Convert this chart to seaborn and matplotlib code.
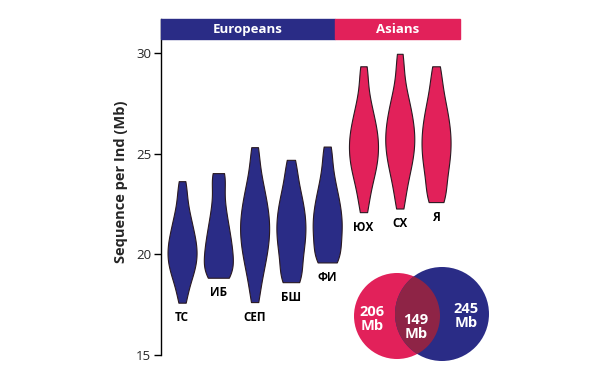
import matplotlib
matplotlib.use("Agg")
import matplotlib.pyplot as plt
from matplotlib.patches import Rectangle, Circle
import seaborn as sns
import pandas as pd

# ---- data (per-population samples, Mb) ----
populations = ["TC", "ИБ", "СЕП", "БШ", "ФИ", "ЮХ", "СХ", "Я"]
groups = ["Europeans"] * 5 + ["Asians"] * 3
tc = [17.6, 18.04, 18.49, 18.73, 18.97, 19.15, 19.33, 19.5, 19.65, 19.8, 19.94, 20.09, 20.24,
      20.39, 20.55, 20.71, 20.87, 21.03, 21.26, 21.48, 21.7, 21.93, 22.28, 22.68, 23.2, 23.64]
ib = [18.84, 18.88, 18.94, 19.13, 19.3, 19.48, 19.65, 19.82, 19.99, 20.18, 20.37, 20.56, 20.75,
      20.94, 21.18, 21.44, 21.7, 21.96, 22.33, 22.72, 23.17, 23.75, 24.0, 24.04]
sep = [17.63, 18.21, 18.77, 19.14, 19.43, 19.72, 20.0, 20.21, 20.43, 20.64, 20.85, 21.06, 21.25,
       21.44, 21.63, 21.83, 22.03, 22.27, 22.5, 22.73, 22.97, 23.3, 23.66, 24.02, 24.75, 25.33]
bsh = [18.62, 18.66, 18.82, 19.16, 19.45, 19.73, 20.02, 20.23, 20.44, 20.66, 20.87, 21.07, 21.26,
       21.46, 21.65, 21.85, 22.05, 22.28, 22.52, 22.75, 22.99, 23.35, 23.72, 24.24, 24.7]
fi = [19.6, 19.64, 19.76, 20.05, 20.27, 20.49, 20.72, 20.94, 21.14, 21.33, 21.52, 21.71, 21.9,
      22.11, 22.34, 22.57, 22.79, 23.03, 23.38, 23.73, 24.15, 24.81, 25.36]
yukh = [22.1, 22.7, 23.21, 23.56, 23.9, 24.15, 24.35, 24.56, 24.77, 24.97, 25.18, 25.37, 25.55,
        25.74, 25.93, 26.14, 26.38, 26.61, 26.85, 27.15, 27.55, 27.95, 28.75, 29.35]
skh = [22.28, 22.85, 23.33, 23.72, 24.06, 24.29, 24.52, 24.75, 24.98, 25.17, 25.35, 25.54, 25.72,
       25.9, 26.09, 26.29, 26.49, 26.7, 26.9, 27.14, 27.43, 27.71, 28.0, 28.54, 29.25, 29.97]
ya = [22.6, 22.65, 22.86, 23.23, 23.54, 23.85, 24.11, 24.33, 24.54, 24.76, 24.97, 25.17, 25.36,
      25.55, 25.74, 25.93, 26.13, 26.35, 26.56, 26.78, 26.99, 27.28, 27.58, 27.87, 28.31, 28.86,
      29.35]
samples = [tc, ib, sep, bsh, fi, yukh, skh, ya]
venn_labels = ["206\nMb", "149\nMb", "245\nMb"]
yticks = [15, 20, 25, 30]
ylabel = "Sequence per Ind (Mb)"

BLUE = "#2a2c86"
RED = "#e2215a"
OVER = "#8e2446"
EDGE = "#2a1a22"

rows = []
for pop, grp, vals in zip(populations, groups, samples):
    for v in vals:
        rows.append({"pop": pop, "group": grp, "val": v})
df = pd.DataFrame(rows)

sns.set_style("white")
plt.rcParams["font.family"] = ["Open Sans", "DejaVu Sans"]

fig = plt.figure(figsize=(6, 3.89), dpi=100)
ax = fig.add_axes([161 / 600, 1 - 355 / 389, (460 - 161) / 600, (355 - 19) / 389])

sns.violinplot(data=df, x="pop", y="val", hue="group", order=populations,
               hue_order=["Europeans", "Asians"], palette={"Europeans": BLUE, "Asians": RED},
               saturation=1, cut=0, inner=None, density_norm="width", width=0.8,
               linewidth=0.8, linecolor=EDGE, dodge=False, legend=False, bw_adjust=0.7,
               gridsize=200, ax=ax)

ax.set_xlim(-0.58, 7.66)
ax.set_ylim(15, 31.7)
ax.set_yticks(yticks)
ax.set_yticklabels([str(t) for t in yticks], fontsize=9.5)
ax.tick_params(axis="y", direction="out", length=5, width=1, color="black", pad=2, left=True)
ax.set_xticks([])
ax.set_xlabel("")
ax.set_ylabel(ylabel, fontsize=10.5, fontweight="bold")
ax.yaxis.set_label_coords(-0.11, 0.515)
for s in ["top", "right", "bottom"]:
    ax.spines[s].set_visible(False)
ax.spines["left"].set_color("black")
ax.spines["left"].set_linewidth(1)
ax.spines["left"].set_bounds(15, 31.7)

# labels under violins
for i, (pop, vals) in enumerate(zip(populations, samples)):
    ax.text(i, min(vals) - 0.75, pop, ha="center", va="center",
            fontsize=8.5, fontweight="bold", color="black")

# banner
split = 4.21
ax.add_patch(Rectangle((-0.58, 30.7), split + 0.58, 1.0, color=BLUE, clip_on=False, zorder=5))
ax.add_patch(Rectangle((split, 30.7), 7.66 - split, 1.0, color=RED, clip_on=False, zorder=5))
ax.text((-0.58 + split) / 2, 31.2, "Europeans", ha="center", va="center", color="white",
        fontsize=9.5, fontweight="bold", zorder=6)
ax.text((split + 7.66) / 2, 31.2, "Asians", ha="center", va="center", color="white",
        fontsize=9.5, fontweight="bold", zorder=6)

# Venn diagram (pixel-unit axes)
vax = fig.add_axes([340 / 600, 1 - 370 / 389, 160 / 600, 110 / 389])
vax.set_xlim(340, 500)
vax.set_ylim(370, 260)
vax.axis("off")
vax.add_patch(Circle((397, 316), 43, color=RED, lw=0))
vax.add_patch(Circle((442, 314), 47, color=BLUE, lw=0))
ov = Circle((397, 316), 43, color=OVER, lw=0)
vax.add_patch(ov)
ov.set_clip_path(Circle((442, 314), 47, transform=vax.transData))
for (x, y), lab in zip([(372, 319), (416, 327), (466, 316)], venn_labels):
    vax.text(x, y, lab, ha="center", va="center", color="white", fontsize=10.5,
             fontweight="bold", linespacing=1.0)

fig.savefig("out.png", dpi=100, facecolor="white")
